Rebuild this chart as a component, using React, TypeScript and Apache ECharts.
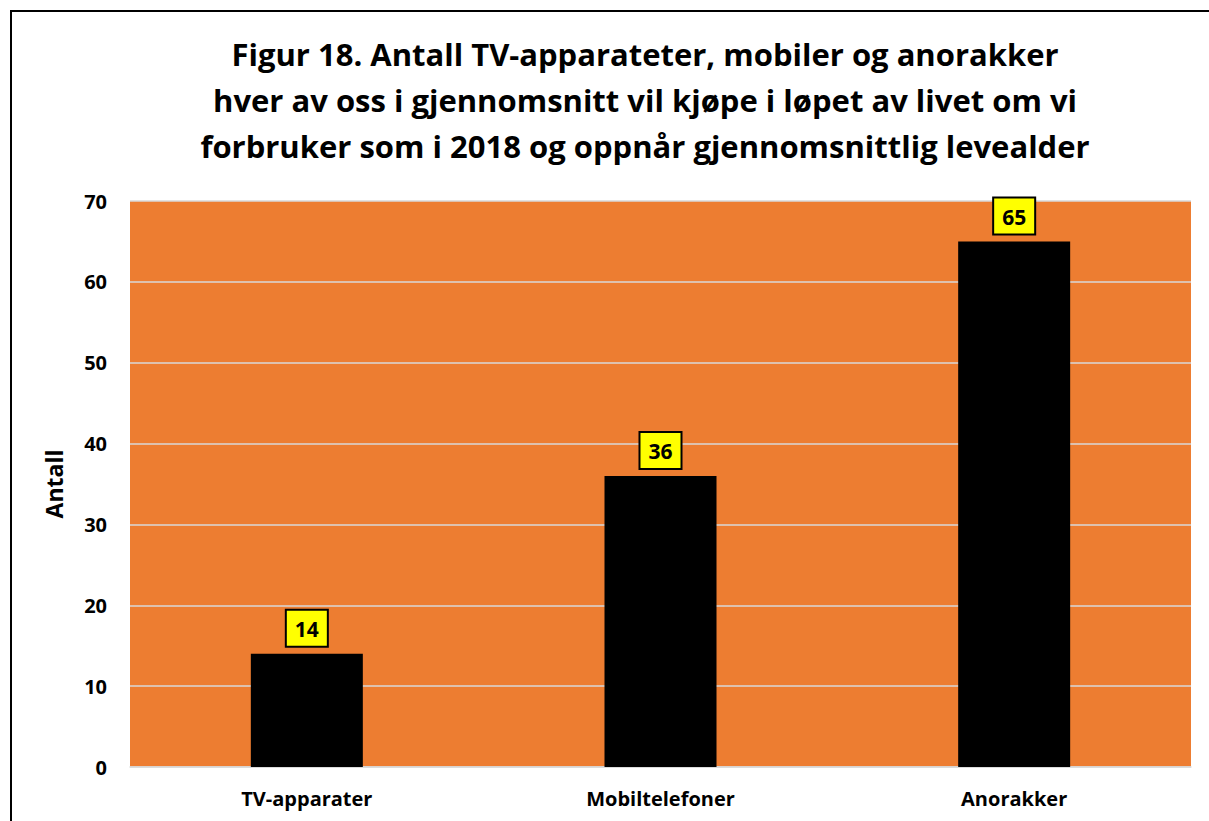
import React, { useEffect, useRef } from "react";
import * as echarts from "echarts";

const categories = ["TV-apparater", "Mobiltelefoner", "Anorakker"];
const values = [14, 36, 65];
const titleLines = [
  "Figur 18. Antall TV-apparateter, mobiler og anorakker",
  "hver av oss i gjennomsnitt vil kjøpe i løpet av livet om vi",
  "forbruker som i 2018 og oppnår gjennomsnittlig levealder",
];
const yAxisName = "Antall";

const FONT = "'Open Sans', Lato, sans-serif";

export default function App() {
  const ref = useRef<HTMLDivElement>(null);
  useEffect(() => {
    document.body.style.margin = "0";
    const chart = echarts.init(ref.current!, null, { renderer: "svg" });
    chart.setOption({
      animation: false,
      backgroundColor: "#ffffff",
      textStyle: { fontFamily: FONT },
      graphic: [
        {
          type: "polyline",
          shape: { points: [[11, 830], [11, 11], [1220, 11]] },
          style: { stroke: "#000", lineWidth: 2, fill: null },
          z: 100,
        },
        {
          type: "text",
          x: 645,
          y: 31,
          style: {
            text: titleLines.join("\n"),
            textAlign: "center",
            fontFamily: FONT,
            fontWeight: "bold",
            fontSize: 31,
            lineHeight: 46,
            fill: "#000",
          },
        },
      ],
      grid: { left: 130, right: 18, top: 201, bottom: 54, backgroundColor: "#ED7D31", show: true, borderWidth: 0 },
      xAxis: {
        type: "category",
        data: categories,
        axisLine: { show: true, lineStyle: { color: "#d9d9d9", width: 1.5 } },
        axisTick: { show: false },
        axisLabel: { color: "#000", fontWeight: "bold", fontSize: 20, margin: 21, fontFamily: FONT },
      },
      yAxis: {
        type: "value",
        min: 0,
        max: 70,
        interval: 10,
        name: yAxisName,
        nameLocation: "middle",
        nameGap: 65,
        nameTextStyle: { color: "#000", fontWeight: "bold", fontSize: 23, fontFamily: FONT },
        axisLine: { show: false },
        axisTick: { show: false },
        axisLabel: { color: "#000", fontWeight: "bold", fontSize: 20, margin: 23, fontFamily: FONT },
        splitLine: { lineStyle: { color: "#d9d9d9", width: 1.5 } },
      },
      series: [
        {
          type: "bar",
          data: values,
          barWidth: 112,
          itemStyle: { color: "#000" },
          label: {
            show: true,
            position: "top",
            distance: 8,
            color: "#000",
            fontWeight: "bold",
            fontSize: 21,
            fontFamily: FONT,
            backgroundColor: "#ffff00",
            borderColor: "#000",
            borderWidth: 2,
            padding: [8, 8, 6, 8],
          },
        },
      ],
    });
    return () => chart.dispose();
  }, []);
  return <div ref={ref} style={{ width: 1209, height: 821 }} />;
}
